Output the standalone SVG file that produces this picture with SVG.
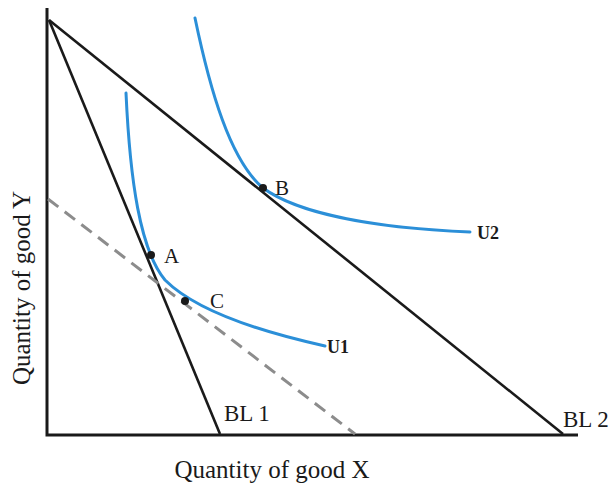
<svg xmlns="http://www.w3.org/2000/svg" width="615" height="487" viewBox="0 0 615 487">
<style>
.ax{stroke:#1a1a1a;stroke-width:3;fill:none}
.bl{stroke:#1a1a1a;stroke-width:2.6;fill:none}
.dash{stroke:#8c8c8c;stroke-width:3;fill:none;stroke-dasharray:13 8}
.ic{stroke:#2b8fd8;stroke-width:3;fill:none;stroke-linecap:round}
.t{font-family:"Liberation Serif","Times New Roman",serif;fill:#1a1a1a}
.lbl{font-size:21px}
.bll{font-size:23px}
.u{font-size:18px;font-weight:bold}
.axl{font-size:25px}
</style>
<g id="connectors">
<path class="ax" d="M47,8 V435 H578"/>
<line class="bl" x1="49" y1="20" x2="220" y2="434"/>
<line class="bl" x1="49" y1="20" x2="563" y2="434"/>
<line class="dash" x1="48" y1="199" x2="355" y2="434"/>
</g>
<g id="U1">
<path class="ic" d="M126,93 C130,180 140,250 165,280 C185,300 230,325 325,346"/>
<text class="t u" x="327" y="353">U1</text>
</g>
<g id="U2">
<path class="ic" d="M195,18 C210,90 230,160 263,188 C300,215 380,228 470,232"/>
<text class="t u" x="477" y="239">U2</text>
</g>
<g id="A">
<circle cx="151" cy="255" r="4" fill="#1a1a1a"/>
<text class="t lbl" x="164" y="263">A</text>
</g>
<g id="B">
<circle cx="263" cy="188" r="4" fill="#1a1a1a"/>
<text class="t lbl" x="275" y="195">B</text>
</g>
<g id="C">
<circle cx="185" cy="301" r="4" fill="#1a1a1a"/>
<text class="t lbl" x="210" y="308">C</text>
</g>
<g id="BL1"><text class="t bll" x="224" y="421">BL 1</text></g>
<g id="BL2"><text class="t bll" x="563" y="427">BL 2</text></g>
<g id="xlabel"><text class="t axl" x="272" y="478" text-anchor="middle">Quantity of good X</text></g>
<g id="ylabel"><text class="t axl" transform="translate(30,288) rotate(-90)" text-anchor="middle">Quantity of good Y</text></g>
</svg>
